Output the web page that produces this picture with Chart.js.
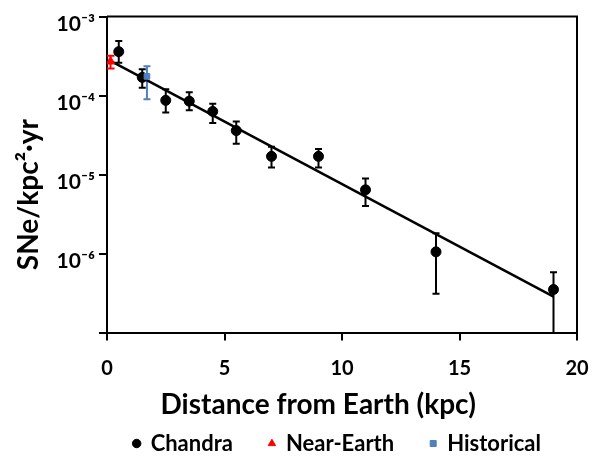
<!DOCTYPE html>
<html lang="en">

<head>
    <meta charset="UTF-8">
    <title>SNe rate vs distance</title>
    <style>
        body { margin: 0; background: #fff; }
    </style>
</head>

<body>
    <canvas id="myChart" width="613" height="456"></canvas>
    <script src="https://cdn.jsdelivr.net/npm/chart.js"></script>
    <script>
        // Chandra points (distance in kpc, rate, error bar ends)
        const chandraX = [0.5, 1.5, 2.5, 3.5, 4.5, 5.5, 7, 9, 11, 14, 19];
        const chandraY = [3.6e-4, 1.7e-4, 8.7e-5, 8.5e-5, 6.3e-5, 3.6e-5, 1.7e-5, 1.7e-5, 6.4e-6, 1.05e-6, 3.5e-7];
        const chandraHi = [4.9e-4, 2.15e-4, 1.2e-4, 1.1e-4, 7.9e-5, 4.7e-5, 2.25e-5, 2.1e-5, 8.9e-6, 1.8e-6, 5.8e-7];
        const chandraLo = [2.6e-4, 1.26e-4, 6.1e-5, 6.5e-5, 4.5e-5, 2.45e-5, 1.23e-5, 1.23e-5, 4.0e-6, 3.1e-7, 1e-8];

        const nearX = [0.15];
        const nearY = [2.7e-4];
        const nearHi = [3.2e-4];
        const nearLo = [2.2e-4];

        const histX = [1.7];
        const histY = [1.75e-4];
        const histHi = [2.35e-4];
        const histLo = [9e-5];

        // fitted line, two end points
        const fitX = [0.15, 19];
        const fitY = [2.75e-4, 2.85e-7];

        const xTicks = [0, 5, 10, 15, 20];
        const yTicks = [1e-7, 1e-6, 1e-5, 1e-4, 1e-3];
        const yTickLabels = ['', '10\u207B\u2076', '10\u207B\u2075', '10\u207B\u2074', '10\u207B\u00B3'];

        const pts = (xs, ys) => xs.map((x, i) => ({ x: x, y: ys[i] }));
        const nb = n => '\u00A0'.repeat(n);

        // error bars drawn with the chart's scales
        const errorBars = {
            id: 'errorBars',
            beforeDatasetsDraw(chart) {
                const { ctx, chartArea, scales: { x, y } } = chart;
                ctx.save();
                ctx.beginPath();
                ctx.rect(chartArea.left, chartArea.top, chartArea.right - chartArea.left, chartArea.bottom - chartArea.top);
                ctx.clip();
                chart.data.datasets.forEach(ds => {
                    if (!ds.errLo) return;
                    ctx.strokeStyle = ds.borderColor;
                    ctx.lineWidth = 2;
                    ds.data.forEach((p, i) => {
                        const px = x.getPixelForValue(p.x);
                        const top = y.getPixelForValue(ds.errHi[i]);
                        const bot = y.getPixelForValue(ds.errLo[i]);
                        ctx.beginPath();
                        ctx.moveTo(px, top); ctx.lineTo(px, bot);
                        ctx.moveTo(px - ds.cap, top); ctx.lineTo(px + ds.cap, top);
                        ctx.moveTo(px - ds.cap, bot); ctx.lineTo(px + ds.cap, bot);
                        ctx.stroke();
                    });
                });
                ctx.restore();
            },
            afterDraw(chart) {
                const { ctx, chartArea } = chart;
                ctx.save();
                ctx.strokeStyle = '#000';
                ctx.lineWidth = 2;
                ctx.beginPath();
                ctx.moveTo(chartArea.left, chartArea.top);
                ctx.lineTo(chartArea.right, chartArea.top);
                ctx.lineTo(chartArea.right, chartArea.bottom);
                ctx.stroke();
                ctx.restore();
            }
        };

        const ctx = document.getElementById('myChart').getContext('2d');
        const myChart = new Chart(ctx, {
            type: 'scatter',
            data: {
                datasets: [
                    {
                        label: 'Chandra',
                        data: pts(chandraX, chandraY),
                        errLo: chandraLo, errHi: chandraHi, cap: 3.5,
                        backgroundColor: '#000',
                        borderColor: '#000',
                        pointStyle: 'circle',
                        pointRadius: 5,
                        order: 3
                    },
                    {
                        label: 'Near-Earth',
                        data: pts(nearX, nearY),
                        errLo: nearLo, errHi: nearHi, cap: 4,
                        backgroundColor: '#FF0000',
                        borderColor: '#FF0000',
                        pointStyle: 'triangle',
                        pointRadius: 5,
                        order: 2
                    },
                    {
                        label: 'Historical',
                        data: pts(histX, histY),
                        errLo: histLo, errHi: histHi, cap: 3.5,
                        backgroundColor: '#4F81BD',
                        borderColor: '#4F81BD',
                        pointStyle: 'rect',
                        pointRadius: 4,
                        order: 1
                    },
                    {
                        label: 'fit',
                        data: pts(fitX, fitY),
                        showLine: true,
                        borderColor: '#000',
                        borderWidth: 2.5,
                        pointRadius: 0,
                        order: 4
                    }
                ]
            },
            options: {
                responsive: false,
                animation: false,
                layout: { padding: { left: 0, right: 36, top: 12, bottom: 0 } },
                plugins: {
                    tooltip: { enabled: false },
                    legend: {
                        position: 'bottom',
                        align: 'end',
                        maxHeight: 59.5,
                        labels: {
                            filter: item => item.text !== 'fit',
                            sort: (a, b) => a.datasetIndex - b.datasetIndex,
                            usePointStyle: true,
                            boxWidth: 6,
                            boxHeight: 6,
                            padding: 36,
                            color: '#000',
                            font: { family: 'Lato', weight: 'bold', size: 22 }
                        }
                    }
                },
                scales: {
                    x: {
                        type: 'linear',
                        min: 0,
                        max: 20,
                        afterBuildTicks: s => { s.ticks = xTicks.map(v => ({ value: v })); },
                        afterFit: s => { s.height = 64; },
                        grid: { drawOnChartArea: false, drawTicks: true, tickLength: 8, color: '#000', lineWidth: 2 },
                        border: { display: true, color: '#000', width: 2 },
                        ticks: {
                            padding: 16,
                            color: '#000',
                            maxRotation: 0,
                            font: { family: 'Lato', weight: 'bold', size: 20 }
                        },
                        title: {
                            display: true,
                            text: 'Distance from Earth (kpc)' + nb(7),
                            color: '#000',
                            padding: { top: 0, bottom: -25 },
                            font: { family: 'Lato', weight: 'bold', size: 28 }
                        }
                    },
                    y: {
                        type: 'logarithmic',
                        min: 1e-7,
                        max: 1e-3,
                        afterBuildTicks: s => { s.ticks = yTicks.map(v => ({ value: v })); },
                        afterFit: s => { s.width = 107; },
                        grid: { drawOnChartArea: false, drawTicks: true, tickLength: 8, color: '#000', lineWidth: 2 },
                        border: { display: true, color: '#000', width: 2 },
                        ticks: {
                            padding: 4,
                            labelOffset: 8,
                            color: '#000',
                            font: { family: 'Lato', weight: 'bold', size: 21 },
                            callback: (v, i) => yTickLabels[i]
                        },
                        title: {
                            display: true,
                            text: 'SNe/kpc\u00B2\u00B7yr' + nb(6),
                            color: '#000',
                            padding: { top: 12, bottom: 0 },
                            font: { family: 'Lato', weight: 'bold', size: 28 }
                        }
                    }
                }
            },
            plugins: [errorBars]
        });
    </script>
</body>

</html>
